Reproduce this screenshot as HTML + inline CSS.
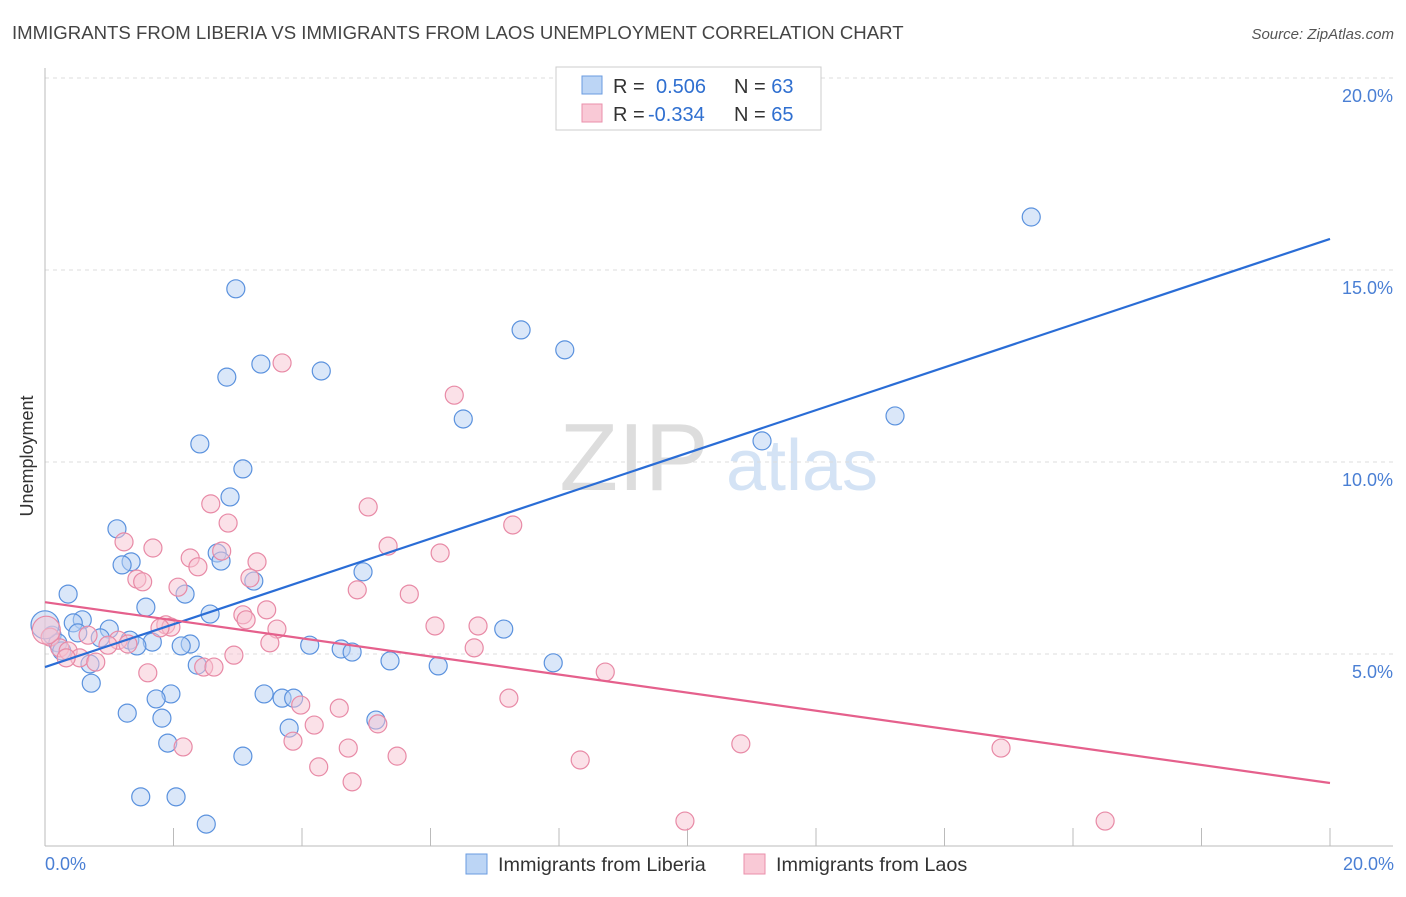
<!DOCTYPE html>
<html><head><meta charset="utf-8"><style>
body{margin:0;background:#fff;font-family:"Liberation Sans",sans-serif}
svg text{font-family:"Liberation Sans",sans-serif}
</style></head><body>
<svg id="chart" width="1406" height="892" xmlns="http://www.w3.org/2000/svg">
<text x="12" y="39" font-size="18.6" fill="#444">IMMIGRANTS FROM LIBERIA VS IMMIGRANTS FROM LAOS UNEMPLOYMENT CORRELATION CHART</text>
<text x="1394" y="39" font-size="15" fill="#555" font-style="italic" text-anchor="end">Source: ZipAtlas.com</text>
<g>
<text x="634" y="490" font-size="96" fill="#ddd" font-family="Liberation Serif" text-anchor="middle">ZIP</text>
<text x="802" y="490" font-size="72" fill="#d4e3f5" text-anchor="middle">atlas</text>
</g>
<g id="grid"></g>
<line x1="45" y1="68" x2="45" y2="846" stroke="#bbb"/>
<line x1="45" y1="846" x2="1393" y2="846" stroke="#bbb"/>
<text transform="translate(33,456) rotate(-90)" font-size="18" fill="#333" text-anchor="middle">Unemployment</text>
<text x="45" y="870" font-size="18" fill="#4a7fd4">0.0%</text>
<text x="1394" y="870" font-size="18" fill="#4a7fd4" text-anchor="end">20.0%</text>
<g id="points"></g>
<g id="lines"></g>
<g>
<rect x="556" y="67" width="265" height="63" fill="#fff" stroke="#ccc"/>
<rect x="582" y="76" width="20" height="18" fill="#bcd5f5" stroke="#6a9be0"/>
<rect x="582" y="104" width="20" height="18" fill="#f9c9d6" stroke="#ea8fab"/>
<text x="613" y="93" font-size="20" fill="#333">R =</text>
<text x="656" y="93" font-size="20" fill="#2f6fd0">0.506</text>
<text x="734" y="93" font-size="20" fill="#333">N = <tspan fill="#2f6fd0">63</tspan></text>
<text x="613" y="121" font-size="20" fill="#333">R =</text>
<text x="648" y="121" font-size="20" fill="#2f6fd0">-0.334</text>
<text x="734" y="121" font-size="20" fill="#333">N = <tspan fill="#2f6fd0">65</tspan></text>
</g>
<g>
<rect x="466" y="854" width="21" height="20" fill="#bcd5f5" stroke="#6a9be0"/>
<text x="498" y="871" font-size="19.8" fill="#333">Immigrants from Liberia</text>
<rect x="744" y="854" width="21" height="20" fill="#f9c9d6" stroke="#ea8fab"/>
<text x="776" y="871" font-size="19.8" fill="#333">Immigrants from Laos</text>
</g>
</svg>
<script>
const yTicks=[5,10,15,20];
const yTickLabels=["5.0%","10.0%","15.0%","20.0%"];
const xTicks=[0,2,4,6,8,10,12,14,16,18,20];
const liberiaX=[15.35,2.97,7.41,8.09,3.36,4.30,2.83,13.23,6.51,11.16,2.41,3.08,2.88,1.12,2.68,1.34,1.20,2.74,4.95,3.25,0.36,2.18,1.57,2.57,0.58,0.44,7.14,1.00,0.51,0.11,0.86,1.32,1.67,2.26,2.12,1.43,4.12,4.61,4.78,0.20,0.26,5.37,7.91,6.12,2.37,0.70,0.72,3.41,3.69,3.87,1.96,1.73,1.28,1.82,5.15,3.80,1.91,3.08,1.49,2.04,2.51,0.0];
const liberiaY=[16.38,14.51,13.44,12.92,12.55,12.37,12.21,11.20,11.12,10.55,10.47,9.82,9.09,8.26,7.63,7.40,7.32,7.42,7.14,6.90,6.56,6.56,6.22,6.04,5.89,5.81,5.65,5.65,5.55,5.49,5.42,5.36,5.31,5.26,5.21,5.21,5.23,5.13,5.05,5.29,5.08,4.82,4.77,4.69,4.71,4.74,4.24,3.96,3.85,3.85,3.96,3.83,3.46,3.33,3.28,3.07,2.68,2.34,1.28,1.28,0.57,5.76];
const laosX=[3.69,6.37,2.58,5.03,2.85,7.28,1.23,1.68,5.34,6.15,2.26,2.75,3.30,2.38,3.19,1.43,1.52,2.07,4.86,5.67,3.45,3.08,3.13,1.88,1.96,1.79,6.07,6.74,3.61,0.67,1.14,0.98,1.29,3.50,0.08,0.23,0.36,0.54,0.79,0.33,6.68,2.94,2.47,2.63,1.60,8.72,7.22,3.98,4.58,4.19,5.18,3.86,2.15,4.72,10.83,14.88,5.48,8.33,4.26,4.78,9.96,16.50,0.02];
const laosY=[12.58,11.74,8.91,8.83,8.41,8.36,7.92,7.76,7.81,7.63,7.50,7.68,7.40,7.27,6.98,6.95,6.88,6.74,6.67,6.56,6.15,6.02,5.89,5.76,5.70,5.68,5.73,5.73,5.65,5.49,5.36,5.23,5.26,5.29,5.44,5.16,5.08,4.90,4.79,4.90,5.16,4.97,4.66,4.66,4.51,4.53,3.85,3.67,3.59,3.15,3.18,2.73,2.58,2.55,2.66,2.55,2.34,2.24,2.06,1.67,0.65,0.65,5.62];
const trendX=[0,20];
const liberiaTrend=[4.66,15.81];
const laosTrend=[6.35,1.64];
const NS="http://www.w3.org/2000/svg";
function sx(v){return 45+v/20*1285;}
function sy(v){return 846-v/20*768;}
function mk(tag,attrs,parent){const e=document.createElementNS(NS,tag);for(const k in attrs)e.setAttribute(k,attrs[k]);parent.appendChild(e);return e;}
const grid=document.getElementById('grid');
yTicks.forEach((t,i)=>{
 const l=mk('line',{x1:45,x2:1393,y1:sy(t),y2:sy(t),stroke:'#ddd','stroke-dasharray':'4,4'},grid);
 
 
 const tx=mk('text',{x:1393,y:sy(t)+24,'font-size':18,fill:'#4a7fd4','text-anchor':'end'},grid);
 tx.textContent=yTickLabels[i];
 
 
});
xTicks.forEach(t=>{
 const l=mk('line',{x1:sx(t),x2:sx(t),y1:828,y2:846,stroke:'#bbb'},grid);
 
 
});
const pts=document.getElementById('points');
function drawSeries(xs,ys,fill,stroke,name){
 xs.forEach((x,i)=>{
  const big=(x<0.05);
  const c=mk('circle',{cx:sx(x),cy:sy(ys[i]),r:big?14:9,fill:fill,'fill-opacity':0.5,stroke:stroke,'stroke-width':1.2},pts);
  
  
 });
}
drawSeries(liberiaX,liberiaY,'#b5d0f3','#5b92de','liberia-point');
drawSeries(laosX,laosY,'#f8c3d2','#e88aa6','laos-point');
const lines=document.getElementById('lines');
const bl=mk('line',{x1:sx(trendX[0]),y1:sy(liberiaTrend[0]),x2:sx(trendX[1]),y2:sy(liberiaTrend[1]),stroke:'#2a6dd6','stroke-width':2.2},lines);


const pl=mk('line',{x1:sx(trendX[0]),y1:sy(laosTrend[0]),x2:sx(trendX[1]),y2:sy(laosTrend[1]),stroke:'#e5608c','stroke-width':2.2},lines);


</script>
</body></html>
